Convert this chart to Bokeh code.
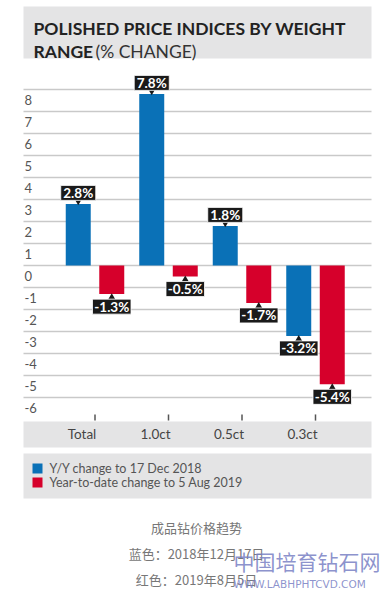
from bokeh.plotting import figure
from bokeh.models import (Range1d, BoxAnnotation, Label, ColumnDataSource)
from bokeh.embed import file_html
from bokeh.resources import INLINE
from bokeh.core.properties import value

# ---------------- data ----------------
categories = ["Total", "1.0ct", "0.5ct", "0.3ct"]
yy_change = [2.8, 7.8, 1.8, -3.2]
ytd_change = [-1.3, -0.5, -1.7, -5.4]
series_names = ["Y/Y change to 17 Dec 2018", "Year-to-date change to 5 Aug 2019"]
y_ticks = [8, 7, 6, 5, 4, 3, 2, 1, 0, -1, -2, -3, -4, -5, -6]
y_tick_labels = [str(t) for t in y_ticks]
title_bold_1 = "POLISHED PRICE INDICES BY WEIGHT"
title_bold_2 = "RANGE"
title_light_2 = "(% CHANGE)"
caption_lines = ["成品钻价格趋势", "蓝色：2018年12月17日", "红色：2019年8月5日"]
watermark_cn = "中国培育钻石网"
watermark_url = "WWW.LABHPHTCVD.COM"

# ---------------- style ----------------
BLUE = "#0a71b7"
RED = "#d6002b"
GREY_BOX = "#e4e4e5"
GRID = "#c9c9c9"
FONT = "Lato"

W, H = 382, 590
PX_X = 73.5   # pixels per category
PX_Y = 22.0   # pixels per percentage point
X0 = 1 - 94.5 / PX_X
Y_TOP = 265 / PX_Y
x_range = Range1d(X0, X0 + W / PX_X)
y_range = Range1d(Y_TOP - H / PX_Y, Y_TOP)

p = figure(width=W, height=H, output_backend="svg", toolbar_location=None,
           x_axis_location=None, y_axis_location=None,
           min_border=0, min_border_left=0, min_border_right=0,
           min_border_top=0, min_border_bottom=0,
           x_range=x_range, y_range=y_range)
p.outline_line_color = None
p.grid.visible = False
p.background_fill_color = "white"
p.border_fill_color = "white"

gx0 = X0 + 23 / PX_X
gx1 = X0 + 371 / PX_X

# horizontal gridlines
p.segment(x0=[gx0] * len(y_ticks), y0=y_ticks, x1=[gx1] * len(y_ticks), y1=y_ticks,
          line_color=GRID, line_width=1.6)

xs = list(range(1, len(categories) + 1))
off = 0.228
bw = 0.34
src = ColumnDataSource(dict(
    xb=[x - off for x in xs], xr=[x + off for x in xs],
    yy=yy_change, ytd=ytd_change, cat=categories, x=xs,
))
p.vbar(x="xb", top="yy", bottom=0, width=bw, source=src, fill_color=BLUE, line_color=None)
p.vbar(x="xr", top="ytd", bottom=0, width=bw, source=src, fill_color=RED, line_color=None)

# y labels (sit between gridlines, as in the original)
p.text(x=[gx0] * len(y_ticks), y=[t - 0.47 for t in y_ticks], text=y_tick_labels,
       x_offset=1, text_align="left", text_baseline="middle",
       text_font=value(FONT), text_font_size="13px", text_color="#555555")

# category band, ticks and labels
p.add_layout(BoxAnnotation(top=-7.09, bottom=-8.27, left=gx0, right=gx1,
                           fill_color=GREY_BOX, fill_alpha=1,
                           line_color=None, level="underlay"))
p.segment(x0=xs, y0=[-6.77] * len(xs), x1=xs, y1=[-7.05] * len(xs),
          line_color="#555555", line_width=1.5)
p.text(x=xs, y=[-7.68] * len(xs), text=categories, x_offset=-13,
       text_align="center", text_baseline="middle",
       text_font=value(FONT), text_font_size="13.5px", text_color="#444444")

# value labels
lx, ly, lt, lw, ty, tm = [], [], [], [], [], []
for xc, vals in ((-off, yy_change), (off, ytd_change)):
    for x, v in zip(xs, vals):
        s = f"{v:.1f}%"
        lx.append(x + xc)
        lt.append(s)
        lw.append(21 + 3.5 * len(s))
        if v >= 0:
            ly.append(v + 0.5)
            ty.append(v + 0.12)
            tm.append("inverted_triangle")
        else:
            ly.append(v - 0.57)
            ty.append(v - 0.14)
            tm.append("triangle")
lsrc = ColumnDataSource(dict(x=lx, y=ly, t=lt, w=lw, ty=ty, m=tm))
p.scatter(x="x", y="ty", marker="m", size=7, source=lsrc, fill_color="#1a1a1a", line_color=None)
p.rect(x="x", y="y", width="w", height=15, width_units="screen", height_units="screen",
       source=lsrc, fill_color="#1a1a1a", line_color="#ffffff", line_width=0.8)
p.text(x="x", y="y", text="t", source=lsrc, text_align="center", text_baseline="middle",
       text_font=value(FONT), text_font_style="bold", text_font_size="13.5px", text_color="white")


def cbox(l, r, t, b, color):
    p.add_layout(BoxAnnotation(left=l, right=r, top=t, bottom=b,
                               left_units="canvas", right_units="canvas",
                               top_units="canvas", bottom_units="canvas",
                               fill_color=color, fill_alpha=1, line_color=None))


def clabel(x, y, text, **kw):
    p.add_layout(Label(x=x, y=y, x_units="canvas", y_units="canvas", text=text, **kw))


# title box
cbox(23, 371, 6, 58, GREY_BOX)
clabel(33, 28, title_bold_1, text_font=FONT, text_font_style="bold", text_font_size="17.5px",
       text_color="#222222", text_baseline="alphabetic")
clabel(33, 51, title_bold_2, text_font=FONT, text_font_style="bold", text_font_size="17.5px",
       text_color="#222222", text_baseline="alphabetic")
clabel(95, 51, title_light_2, text_font=FONT, text_font_style="normal", text_font_size="17.5px",
       text_color="#333333", text_baseline="alphabetic")

# legend box
cbox(23, 371, 453, 498, GREY_BOX)
for i, (name, col) in enumerate(zip(series_names, [BLUE, RED])):
    yc = 468 + 14 * i
    cbox(32, 42, yc - 5, yc + 5, col)
    clabel(49, yc, name, text_font=FONT, text_font_size="12.5px", text_color="#555555",
           text_baseline="middle")

# captions
for i, line in enumerate(caption_lines):
    clabel(196, 527 + 26 * i, line, text_font="Noto Sans CJK SC", text_font_size="13px",
           text_color="#777777", text_align="center", text_baseline="middle")

# watermark
clabel(233, 560, watermark_cn, text_font="Noto Sans CJK SC", text_font_size="21px",
       text_color="#7880c4", text_alpha=0.85, text_baseline="middle")
clabel(233, 583, watermark_url, text_font="DejaVu Sans", text_font_size="10.5px",
       text_color="#7880c4", text_alpha=0.85, text_baseline="middle")

open("out.html", "w").write(file_html(p, INLINE))
